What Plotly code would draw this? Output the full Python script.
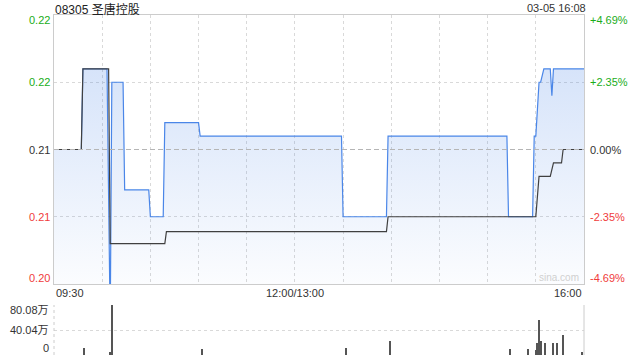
import plotly.graph_objects as go

# ---------------- data ----------------
stock_title = "08305 圣唐控股"
stamp = "03-05 16:08"
prev_close = 0.213

price_times = ["09:30", "09:47", "09:48", "10:03", "10:05", "10:06", "10:13", "10:14",
               "10:29", "10:30", "10:38", "10:39", "11:00", "11:01", "13:29", "13:30",
               "13:57", "13:58", "15:12", "15:13", "15:28", "15:29", "15:30", "15:32",
               "15:33", "15:35", "15:39", "15:40", "15:41", "16:00"]
price_values = [0.213, 0.213, 0.219, 0.219, 0.200, 0.218, 0.218, 0.210,
                0.210, 0.208, 0.208, 0.215, 0.215, 0.214, 0.214, 0.208,
                0.208, 0.214, 0.214, 0.208, 0.208, 0.214, 0.214, 0.218,
                0.218, 0.219, 0.219, 0.217, 0.219, 0.219]

avg_times = ["09:30", "09:47", "09:48", "10:04", "10:05", "10:39", "10:40", "13:57",
             "13:58", "15:30", "15:32", "15:39", "15:41", "15:46", "15:47", "16:00"]
avg_values = [0.213, 0.213, 0.219, 0.219, 0.206, 0.206, 0.2069, 0.2069,
              0.208, 0.208, 0.211, 0.211, 0.212, 0.212, 0.213, 0.213]

vol_times = ["09:49", "10:05", "10:06", "11:02", "13:32", "13:59", "15:14", "15:25",
             "15:30", "15:31", "15:32", "15:33", "15:36", "15:41", "15:43", "15:47", "15:59"]
vol_wan = [10.5, 5, 80.08, 9, 11.7, 22.4, 9.6, 9.6,
           8, 18.7, 56, 22.4, 18.7, 18.7, 18.7, 32, 4.3]

price_tick_vals = [0.223, 0.218, 0.213, 0.208, 0.203]
price_tick_text = ["0.22", "0.22", "0.21", "0.21", "0.20"]
pct_tick_text = ["+4.69%", "+2.35%", "0.00%", "-2.35%", "-4.69%"]
tick_colors = ["#1aad1a", "#1aad1a", "#333333", "#f03c3c", "#f03c3c"]

time_tick_vals = ["09:30", "12:00", "16:00"]
time_tick_text = ["09:30", "12:00/13:00", "16:00"]
grid_times = ["10:00", "10:30", "11:00", "11:30", "12:00", "13:30", "14:00",
              "14:30", "15:00", "15:30"]

vol_tick_vals = [800800, 400400, 0]
vol_tick_text = ["80.08万", "40.04万", "0"]


def to_idx(t):
    h, m = map(int, t.split(":"))
    total = h * 60 + m
    if total <= 12 * 60:
        return total - (9 * 60 + 30)
    return total - 13 * 60 + 150


FONT = "Liberation Sans, Arial, Noto Sans CJK SC, sans-serif"
GRID = "#d9d9d9"

px_ = [to_idx(t) for t in price_times]
ax_ = [to_idx(t) for t in avg_times]
vx_ = [to_idx(t) for t in vol_times]
vy_ = [v * 10000 for v in vol_wan]

main_dom = [71 / 340, 1.0]
vol_dom = [0.0, 50 / 340]

fig = go.Figure()

fig.add_trace(go.Scatter(
    x=px_, y=price_values, mode="lines",
    line=dict(color="#4a86e8", width=1.2),
    fill="tozeroy",
    fillgradient=dict(type="vertical",
                      colorscale=[[0, "rgba(70,130,230,0.02)"], [1, "rgba(70,130,230,0.22)"]],
                      start=0.203, stop=0.219),
    xaxis="x", yaxis="y", hoverinfo="skip", showlegend=False))

fig.add_trace(go.Scatter(
    x=ax_, y=avg_values, mode="lines",
    line=dict(color="#404040", width=1.2),
    xaxis="x", yaxis="y", hoverinfo="skip", showlegend=False))

fig.add_trace(go.Bar(
    x=vx_, y=vy_, width=0.7, marker=dict(color="#555555", line=dict(width=0)),
    xaxis="x2", yaxis="y2", hoverinfo="skip", showlegend=False))

fig.update_layout(
    width=640, height=360,
    margin=dict(l=54, r=56, t=15, b=5),
    paper_bgcolor="white", plot_bgcolor="white",
    font=dict(family=FONT, size=11, color="#333"),
    bargap=0,
    xaxis=dict(domain=[0, 1], range=[0, 330], anchor="y",
               tickvals=[to_idx(t) for t in grid_times], showticklabels=False, ticks="",
               showgrid=True, gridcolor=GRID, griddash="dot", gridwidth=1,
               showline=True, mirror=True, linecolor="#cccccc", linewidth=1, zeroline=False),
    yaxis=dict(domain=main_dom, range=[0.203, 0.223], anchor="x",
               tickvals=[0.208, 0.218], showticklabels=False, ticks="",
               showgrid=True, gridcolor=GRID, griddash="dot", gridwidth=1,
               showline=True, mirror=True, linecolor="#cccccc", linewidth=1, zeroline=False),
    xaxis2=dict(domain=[0, 1], range=[0, 330], anchor="y2", showticklabels=False,
                ticks="", showgrid=False, zeroline=False, showline=False),
    yaxis2=dict(domain=vol_dom, range=[0, 800800], anchor="x2",
                tickvals=vol_tick_vals, showticklabels=False, ticks="",
                showgrid=True, gridcolor=GRID, griddash="dot", gridwidth=1,
                zeroline=False, showline=False),
)

shapes = [
    dict(type="line", xref="x", yref="y", x0=0, x1=330, y0=prev_close, y1=prev_close,
         line=dict(color="#b5b5b5", width=1, dash="5px,3px")),
    dict(type="line", xref="paper", yref="paper", x0=1, x1=1, y0=vol_dom[0], y1=vol_dom[1],
         line=dict(color="#cccccc", width=1)),
    dict(type="line", xref="paper", yref="paper", x0=0, x1=0, y0=vol_dom[0], y1=vol_dom[1],
         line=dict(color="#cccccc", width=1, dash="dot")),
]
fig.update_layout(shapes=shapes)

ann = []
n = len(price_tick_vals)
for i, (v, lt, rt, c) in enumerate(zip(price_tick_vals, price_tick_text, pct_tick_text, tick_colors)):
    ys = -5 if i == 0 else (6 if i == n - 1 else 0)
    ann.append(dict(x=0, xref="paper", y=v, yref="y", text=lt, showarrow=False,
                    xanchor="right", yanchor="middle", xshift=-2, yshift=ys,
                    font=dict(size=11, color=c, family=FONT)))
    ann.append(dict(x=1, xref="paper", y=v, yref="y", text=rt, showarrow=False,
                    xanchor="left", yanchor="middle", xshift=4, yshift=ys,
                    font=dict(size=11, color=c, family=FONT)))

anchors = ["left", "center", "right"]
for t, txt, a in zip(time_tick_vals, time_tick_text, anchors):
    ann.append(dict(x=to_idx(t), xref="x", y=main_dom[0], yref="paper", text=txt,
                    showarrow=False, xanchor=a, yanchor="top", yshift=-1,
                    font=dict(size=11, color="#333", family=FONT)))

for i, (v, txt) in enumerate(zip(vol_tick_vals, vol_tick_text)):
    ys = -5 if i == 0 else (7 if i == len(vol_tick_vals) - 1 else 0)
    ann.append(dict(x=0, xref="paper", y=v, yref="y2", text=txt, showarrow=False,
                    xanchor="right", yanchor="middle", xshift=-3, yshift=ys,
                    font=dict(size=11, color="#333", family=FONT)))

ann.append(dict(x=0, xref="paper", y=1, yref="paper", text=stock_title, showarrow=False,
                xanchor="left", yanchor="middle", yshift=6, xshift=-1,
                font=dict(size=12, color="#222", family=FONT)))
ann.append(dict(x=1, xref="paper", y=1, yref="paper", text=stamp, showarrow=False,
                xanchor="right", yanchor="middle", yshift=7, xshift=4,
                font=dict(size=11, color="#333", family=FONT)))
ann.append(dict(x=1, xref="paper", y=main_dom[0], yref="paper", text="sina.com", showarrow=False,
                xanchor="right", yanchor="bottom", xshift=-3, yshift=-1,
                font=dict(size=10, color="#d0d0d0", family=FONT)))

fig.update_layout(annotations=ann)

fig.write_html("out.html")
